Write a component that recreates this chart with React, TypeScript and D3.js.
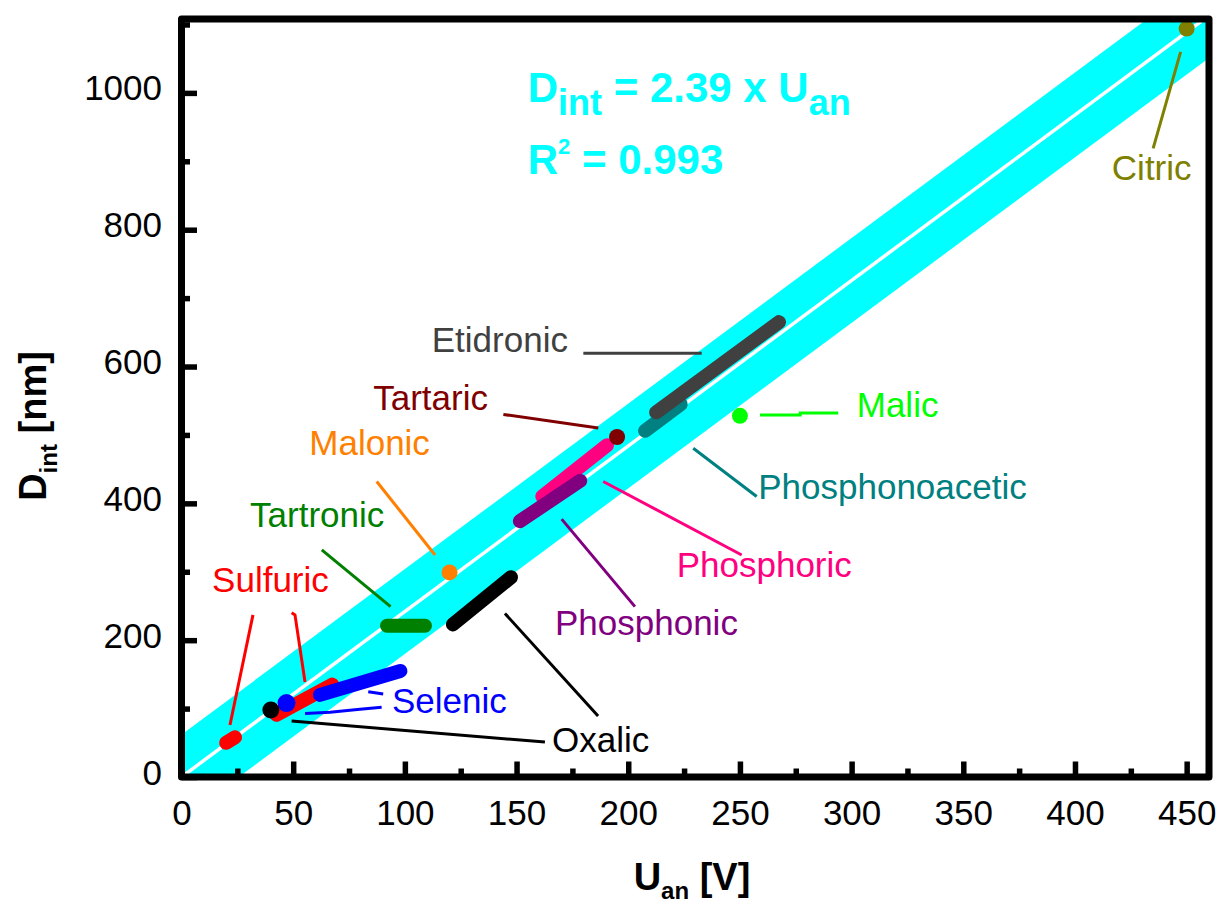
import React, { useEffect, useRef } from "react";
import * as d3 from "d3";

const W = 1217;
const H = 905;

// axis ticks
const xTicks = [0, 50, 100, 150, 200, 250, 300, 350, 400, 450];
const xMinor = [25, 75, 125, 175, 225, 275, 325, 375, 425];
const yTicks = [0, 200, 400, 600, 800, 1000];
const yMinor = [100, 300, 500, 700, 900, 1100];

// fit line (as drawn) and band half width, nm
const fitU = [0, 460];
const fitD = [0, 1113];
const bandHalf = 62;

// acids and colours
const acids = ["Sulfuric", "Selenic", "Oxalic", "Tartronic", "Malonic", "Tartaric",
  "Phosphoric", "Phosphonic", "Phosphonoacetic", "Etidronic", "Malic", "Citric"];
const acidColors = ["#ff0000", "#0000ff", "#000000", "#008000", "#ff8000", "#800000",
  "#ff0080", "#800080", "#008080", "#404040", "#00ff00", "#808000"];

// ranges measured for each acid: U [V] -> D_int [nm]
const segments = [
  { acid: "Sulfuric", u: [20, 24], d: [50, 58] },
  { acid: "Sulfuric", u: [42.5, 67.5], d: [91, 135] },
  { acid: "Selenic", u: [62, 98], d: [120, 155] },
  { acid: "Oxalic", u: [121.5, 147.5], d: [223, 292] },
  { acid: "Tartronic", u: [92, 109], d: [221, 221] },
  { acid: "Phosphoric", u: [161.5, 190.5], d: [410, 485] },
  { acid: "Phosphonic", u: [151.5, 178.5], d: [374, 433] },
  { acid: "Phosphonoacetic", u: [207.5, 223.5], d: [506, 545] },
  { acid: "Etidronic", u: [212.5, 267.5], d: [533, 665] },
];

const dots = [
  { acid: "Selenic", u: 47, d: 108 },
  { acid: "Oxalic", u: 40, d: 98 },
  { acid: "Malonic", u: 120, d: 299 },
  { acid: "Tartaric", u: 195, d: 497 },
  { acid: "Malic", u: 250, d: 528 },
  { acid: "Citric", u: 450, d: 1094 },
];

// annotation leader lines, in data units
const leaders = [
  { acid: "Sulfuric", pts: [[32, 237], [21.7, 76]] },
  { acid: "Sulfuric", pts: [[49.3, 240], [50.8, 237], [55.3, 139]] },
  { acid: "Selenic", pts: [[55.3, 93], [66.5, 94.6], [79.9, 99], [89.6, 101.8]] },
  { acid: "Selenic", pts: [[83.6, 124.7], [86.6, 123.2], [90.3, 121.3]] },
  { acid: "Oxalic", pts: [[49.3, 82], [162.7, 51]] },
  { acid: "Oxalic", pts: [[144.8, 239], [186.5, 89]] },
  { acid: "Tartronic", pts: [[62.8, 332], [93.6, 249]] },
  { acid: "Malonic", pts: [[87.4, 432], [113.5, 324.5]] },
  { acid: "Tartaric", pts: [[144.1, 530], [186.6, 510]] },
  { acid: "Phosphoric", pts: [[188.8, 432], [250.8, 324.5]] },
  { acid: "Phosphonic", pts: [[170.2, 377], [203, 249]] },
  { acid: "Phosphonoacetic", pts: [[229.1, 480.5], [257.5, 410]] },
  { acid: "Etidronic", pts: [[179.9, 619.4], [232.9, 619.4]] },
  { acid: "Malic", pts: [[259, 529], [277, 529], [277, 532], [294, 532]] },
  { acid: "Citric", pts: [[447.3, 1060], [435, 919]] },
];

const labels = [
  { acid: "Sulfuric", u: 13.7, d: 270.8, anchor: "start" },
  { acid: "Selenic", u: 94.2, d: 93.6, anchor: "start" },
  { acid: "Oxalic", u: 165.9, d: 36.5, anchor: "start" },
  { acid: "Tartronic", u: 30.7, d: 366, anchor: "start" },
  { acid: "Malonic", u: 111.2, d: 470.7, anchor: "end" },
  { acid: "Tartaric", u: 137.2, d: 536.5, anchor: "end" },
  { acid: "Phosphoric", u: 221.7, d: 293, anchor: "start" },
  { acid: "Phosphonic", u: 167.2, d: 207.6, anchor: "start" },
  { acid: "Phosphonoacetic", u: 258.2, d: 407, anchor: "start" },
  { acid: "Etidronic", u: 173, d: 621.7, anchor: "end" },
  { acid: "Malic", u: 302.3, d: 526, anchor: "start" },
  { acid: "Citric", u: 416.5, d: 872.7, anchor: "start" },
];

const FONT = "'Liberation Sans', Arial, sans-serif";
const colorOf = (a: string) => acidColors[acids.indexOf(a)];

export default function App() {
  const ref = useRef<SVGSVGElement>(null);

  useEffect(() => {
    const svg = d3.select(ref.current);
    svg.selectAll("*").remove();

    const x = d3.scaleLinear().domain([0, 460]).range([181.5, 1209]);
    const y = d3.scaleLinear().domain([0, 1108]).range([777, 19]);
    const fit = d3.scaleLinear().domain(fitU).range(fitD);

    svg.append("defs").append("clipPath").attr("id", "plot")
      .append("rect")
      .attr("x", x(0)).attr("y", y(1108))
      .attr("width", x(460) - x(0)).attr("height", y(0) - y(1108));

    const g = svg.append("g").attr("clip-path", "url(#plot)");

    // band
    const us = [-40, 500];
    g.append("path")
      .datum(us)
      .attr("fill", "#00ffff")
      .attr("d", d3.area<number>()
        .x(u => x(u))
        .y0(u => y(fit(u) - bandHalf))
        .y1(u => y(fit(u) + bandHalf)));
    g.append("path")
      .datum(us)
      .attr("fill", "none")
      .attr("stroke", "#ffffff")
      .attr("stroke-width", 3.5)
      .attr("d", d3.line<number>().x(u => x(u)).y(u => y(fit(u))));

    const line = d3.line<number[]>().x(p => x(p[0])).y(p => y(p[1]));

    // leaders
    leaders.forEach(l => {
      g.append("path")
        .attr("d", line(l.pts))
        .attr("fill", "none")
        .attr("stroke", colorOf(l.acid))
        .attr("stroke-width", 3);
    });

    const seg = (s: typeof segments[0]) => {
      g.append("path")
        .attr("d", line([[s.u[0], s.d[0]], [s.u[1], s.d[1]]]))
        .attr("stroke", colorOf(s.acid))
        .attr("stroke-width", 14)
        .attr("stroke-linecap", "round");
    };
    const dot = (p: typeof dots[0], r = 8) => {
      g.append("circle")
        .attr("cx", x(p.u)).attr("cy", y(p.d))
        .attr("r", r)
        .attr("fill", colorOf(p.acid));
    };

    // drawing order follows overlaps in the figure
    seg(segments[0]);
    seg(segments[1]);
    seg(segments[2]);
    dot(dots[0], 9);
    dot(dots[1], 8.5);
    seg(segments[3]);
    seg(segments[4]);
    dot(dots[2]);
    seg(segments[5]);
    seg(segments[6]);
    dot(dots[3]);
    seg(segments[7]);
    seg(segments[8]);
    dot(dots[4]);
    dot(dots[5]);

    // labels
    labels.forEach(l => {
      svg.append("text")
        .attr("x", x(l.u)).attr("y", y(l.d))
        .attr("text-anchor", l.anchor)
        .attr("font-family", FONT)
        .attr("font-size", 35)
        .attr("fill", colorOf(l.acid))
        .text(l.acid);
    });

    // equation
    const eq = svg.append("text")
      .attr("x", x(155)).attr("y", y(987))
      .attr("font-family", FONT).attr("font-weight", "bold")
      .attr("font-size", 42).attr("fill", "#00ffff");
    eq.append("tspan").text("D");
    eq.append("tspan").attr("font-size", 36).attr("dy", 13).text("int");
    eq.append("tspan").attr("dy", -13).text(" = 2.39 x U");
    eq.append("tspan").attr("font-size", 36).attr("dy", 13).text("an");

    const r2 = svg.append("text")
      .attr("x", x(155)).attr("y", y(881))
      .attr("font-family", FONT).attr("font-weight", "bold")
      .attr("font-size", 42).attr("fill", "#00ffff");
    r2.append("tspan").text("R");
    r2.append("tspan").attr("font-size", 22).attr("dy", -20).text("2");
    r2.append("tspan").attr("dy", 20).text(" = 0.993");

    // axes
    const styleAxis = (a: d3.Selection<SVGGElement, unknown, null, undefined>) => {
      a.select(".domain").remove();
      a.attr("font-family", FONT).attr("font-size", 35);
      a.selectAll("line").attr("stroke-width", 5.5);
    };

    const gx = svg.append("g").attr("transform", `translate(0,${y(0)})`);
    gx.call(d3.axisBottom(x).tickValues(xTicks).tickSize(-15.5).tickPadding(23)
      .tickFormat(d3.format("d")));
    styleAxis(gx);
    const gxm = svg.append("g").attr("transform", `translate(0,${y(0)})`);
    gxm.call(d3.axisBottom(x).tickValues(xMinor).tickSize(-8.5).tickFormat(() => ""));
    styleAxis(gxm);

    const gy = svg.append("g").attr("transform", `translate(${x(0)},0)`);
    gy.call(d3.axisLeft(y).tickValues(yTicks).tickSize(-15.5).tickPadding(19.5)
      .tickFormat(d3.format("d")));
    styleAxis(gy);
    gy.selectAll("text").attr("dy", "0.2em");
    const gym = svg.append("g").attr("transform", `translate(${x(0)},0)`);
    gym.call(d3.axisLeft(y).tickValues(yMinor).tickSize(-8.5).tickFormat(() => ""));
    styleAxis(gym);

    // frame
    svg.append("rect")
      .attr("x", x(0)).attr("y", y(1108))
      .attr("width", x(460) - x(0)).attr("height", y(0) - y(1108))
      .attr("fill", "none").attr("stroke", "#000").attr("stroke-width", 7)
      .attr("stroke-linejoin", "round");

    // axis titles
    const yt = svg.append("text")
      .attr("transform", `translate(46,426) rotate(-90)`)
      .attr("text-anchor", "middle")
      .attr("font-family", FONT).attr("font-weight", "bold").attr("font-size", 38);
    yt.append("tspan").text("D");
    yt.append("tspan").attr("font-size", 24).attr("dy", 11).text("int");
    yt.append("tspan").attr("dy", -11).text(" [nm]");

    const xt = svg.append("text")
      .attr("x", 692).attr("y", 890)
      .attr("text-anchor", "middle")
      .attr("font-family", FONT).attr("font-weight", "bold").attr("font-size", 38);
    xt.append("tspan").text("U");
    xt.append("tspan").attr("font-size", 24).attr("dy", 9).text("an");
    xt.append("tspan").attr("dy", -9).text(" [V]");
  }, []);

  return (
    <svg ref={ref} width={W} height={H}
      style={{ position: "absolute", left: 0, top: 0, background: "#fff" }} />
  );
}
